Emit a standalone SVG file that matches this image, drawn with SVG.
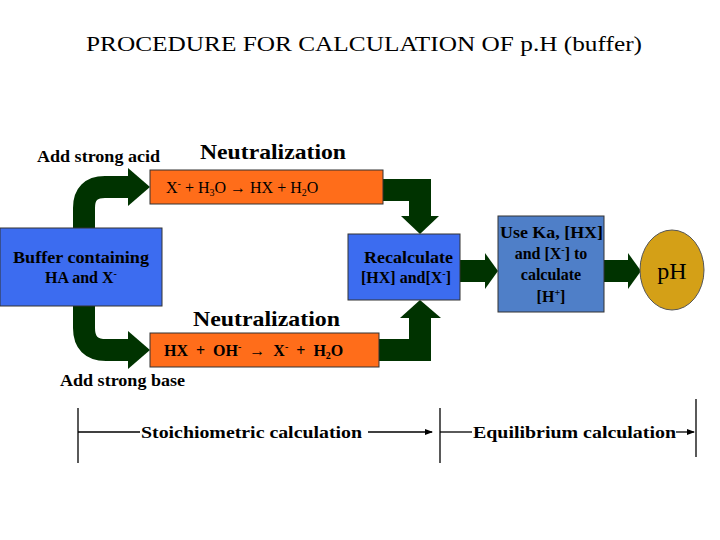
<svg xmlns="http://www.w3.org/2000/svg" width="720" height="540" viewBox="0 0 720 540">
<style>
text{font-family:"Liberation Serif","Times New Roman",serif;fill:#000}
.b{font-weight:bold}
.box{stroke:#333;stroke-width:1}
.band{fill:none;stroke:#003300;stroke-width:22}
.head{fill:#003300}
.ln{stroke:#000;stroke-width:1.3;fill:none}
</style>
<defs><marker id="ah" markerWidth="8" markerHeight="8" refX="7" refY="4" orient="auto" markerUnits="userSpaceOnUse"><path d="M0,1 L8,4 L0,7z" fill="#000"/></marker></defs>
<rect width="720" height="540" fill="#fff"/>
<text x="86" y="51" font-size="21" textLength="556" lengthAdjust="spacingAndGlyphs">PROCEDURE FOR CALCULATION OF p.H (buffer)</text>
<text x="37" y="162" font-size="16" class="b" textLength="123" lengthAdjust="spacingAndGlyphs">Add strong acid</text>
<text x="200" y="159" font-size="21" class="b" textLength="146" lengthAdjust="spacingAndGlyphs">Neutralization</text>
<text x="193" y="326" font-size="21" class="b" textLength="147" lengthAdjust="spacingAndGlyphs">Neutralization</text>
<text x="60" y="386" font-size="16" class="b" textLength="125" lengthAdjust="spacingAndGlyphs">Add strong base</text>
<g id="connectors">
<path class="band" d="M84,230 V208 Q84,187 105,187 H130"/>
<polygon class="head" points="128,168 150,187 128,206"/>
<path class="band" d="M84,304 V328 Q84,350 106,350 H130"/>
<polygon class="head" points="128,331 150,350 128,369"/>
<path class="band" d="M383,190 H420 V218"/>
<polygon class="head" points="401,216 439,216 420,234"/>
<path class="band" d="M379,350 H420 V316"/>
<polygon class="head" points="400,318 441,318 420,300"/>
<path class="band" d="M460,271 H488"/>
<polygon class="head" points="485,253 498,271 485,289"/>
<path class="band" d="M604,271 H630"/>
<polygon class="head" points="628,253 641,271 628,289"/>
</g>
<g id="acid"><rect class="box" x="150" y="170" width="233" height="34" fill="#ff6d1a"/>
<text x="166" y="193" font-size="16">X<tspan dy="-6" font-size="10">-</tspan><tspan dy="6">  +  H</tspan><tspan dy="3" font-size="10">3</tspan><tspan dy="-3">O  →  HX  +  H</tspan><tspan dy="3" font-size="10">2</tspan><tspan dy="-3">O</tspan></text></g>
<g id="base"><rect class="box" x="150" y="333" width="229" height="34" fill="#ff6d1a"/>
<text x="164" y="356" font-size="16" class="b" xml:space="preserve">HX  +  OH<tspan dy="-6" font-size="10">-</tspan><tspan dy="6">  →  X</tspan><tspan dy="-6" font-size="10">-</tspan><tspan dy="6">  +  H</tspan><tspan dy="3" font-size="10">2</tspan><tspan dy="-3">O</tspan></text></g>
<g id="buffer"><rect class="box" x="0" y="228" width="162" height="78" fill="#3c6cf0"/>
<text x="13" y="263" font-size="16" class="b" textLength="136" lengthAdjust="spacingAndGlyphs">Buffer containing</text>
<text x="81" y="283" font-size="16" class="b" text-anchor="middle">HA and X<tspan dy="-6" font-size="10">-</tspan></text></g>
<g id="recalc"><rect class="box" x="348" y="234" width="112" height="66" fill="#3c6cf0"/>
<text x="364" y="263" font-size="16" class="b" textLength="89" lengthAdjust="spacingAndGlyphs">Recalculate</text>
<text x="406" y="283" font-size="16" class="b" text-anchor="middle">[HX] and[X<tspan dy="-6" font-size="10">-</tspan><tspan dy="6">]</tspan></text></g>
<g id="useka"><rect class="box" x="498" y="216" width="106" height="96" fill="#4f7fc8"/>
<text x="500" y="238" font-size="16" class="b" textLength="103" lengthAdjust="spacingAndGlyphs">Use Ka, [HX]</text>
<text x="551" y="259" font-size="16" class="b" text-anchor="middle">and [X<tspan dy="-6" font-size="10">-</tspan><tspan dy="6">] to</tspan></text>
<text x="551" y="280" font-size="16" class="b" text-anchor="middle">calculate</text>
<text x="551" y="302" font-size="16" class="b" text-anchor="middle">[H<tspan dy="-6" font-size="10">+</tspan><tspan dy="6">]</tspan></text></g>
<g id="ph"><ellipse cx="672" cy="270" rx="32" ry="40" fill="#d4a017" stroke="#555"/>
<text x="672" y="279" font-size="24" text-anchor="middle">pH</text></g>
<g id="timeline">
<line class="ln" x1="78" y1="408" x2="78" y2="463"/>
<line class="ln" x1="78" y1="432" x2="140" y2="432"/>
<text x="141" y="438" font-size="17" class="b" textLength="221" lengthAdjust="spacingAndGlyphs">Stoichiometric calculation</text>
<line class="ln" x1="368" y1="432" x2="432" y2="432" marker-end="url(#ah)"/>
<line class="ln" x1="440" y1="408" x2="440" y2="463"/>
<line class="ln" x1="440" y1="432" x2="472" y2="432"/>
<text x="473" y="438" font-size="17" class="b" textLength="203" lengthAdjust="spacingAndGlyphs">Equilibrium calculation</text>
<line class="ln" x1="676" y1="432" x2="694" y2="432" marker-end="url(#ah)"/>
<line class="ln" x1="696" y1="399" x2="696" y2="457"/>
</g>
</svg>
